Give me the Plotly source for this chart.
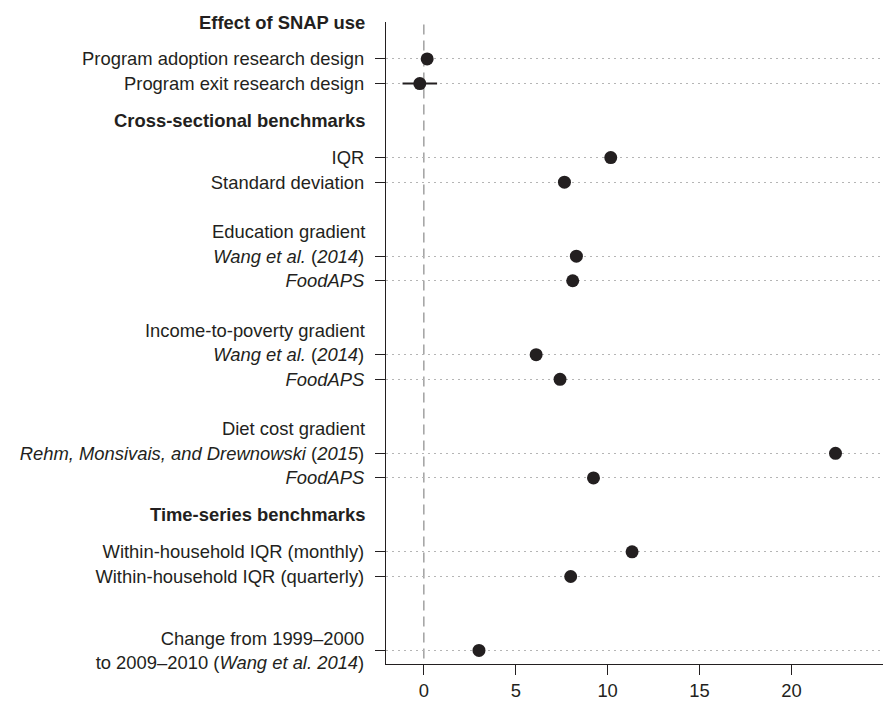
import plotly.graph_objects as go

# ticked rows (top to bottom) and their point estimates
labels = [
    "Program adoption research design",
    "Program exit research design",
    "IQR",
    "Standard deviation",
    "<i>Wang et al.</i> (<i>2014</i>)",
    "<i>FoodAPS</i>",
    "<i>Wang et al.</i> (<i>2014</i>)",
    "<i>FoodAPS</i>",
    "<i>Rehm, Monsivais, and Drewnowski</i> (<i>2015</i>)",
    "<i>FoodAPS</i>",
    "Within-household IQR (monthly)",
    "Within-household IQR (quarterly)",
    "Change from 1999–2000<br>to 2009–2010 (<i>Wang et al. 2014</i>)",
]
estimates = [0.18, -0.22, 10.17, 7.65, 8.30, 8.10, 6.11, 7.41, 22.40, 9.23, 11.33, 7.99, 3.00]
ci_half = [0, 0.94, 0, 0, 0, 0, 0, 0, 0, 0, 0, 0, 0]

headers = ["Effect of SNAP use", "Cross-sectional benchmarks", "Time-series benchmarks"]
subgroups = ["Education gradient", "Income-to-poverty gradient", "Diet cost gradient"]

x_ticks = [0, 5, 10, 15, 20, 25]
x_ticktext = ["0", "5", "10", "15", "20", ""]

# row slots on the vertical axis (layout only)
row_slots = [0, 1, 4, 5, 8, 9, 12, 13, 16, 17, 20, 21, 24]
header_slots = [-1.5, 2.5, 18.5]
subgroup_slots = [7, 11, 15]

INK = "#231f20"
FONT = "Liberation Sans, Arial, Helvetica, sans-serif"
FS = 18.4

fig = go.Figure()

fig.add_trace(go.Scatter(
    x=estimates,
    y=row_slots,
    mode="markers",
    marker=dict(size=13, color=INK),
    error_x=dict(type="data", array=ci_half, symmetric=True,
                 color=INK, thickness=2, width=0),
    showlegend=False,
    cliponaxis=False,
))

# dashed zero line
fig.add_shape(type="line", x0=0, x1=0, y0=-1.4, y1=24.55,
              xref="x", yref="y",
              line=dict(color="#8a8a8a", width=1.2, dash="10px,6px"),
              layer="below")

for txt, pos in zip(headers, header_slots):
    fig.add_annotation(text=f"<b>{txt}</b>", x=0, xref="paper", y=pos, yref="y",
                       xanchor="right", yanchor="middle", xshift=-19.5,
                       showarrow=False, font=dict(size=FS, color=INK, family=FONT))

for txt, pos in zip(subgroups, subgroup_slots):
    fig.add_annotation(text=txt, x=0, xref="paper", y=pos, yref="y",
                       xanchor="right", yanchor="middle", xshift=-19.5,
                       showarrow=False, font=dict(size=FS, color=INK, family=FONT))

# page body has an 8px margin, so the figure is sized to end at the window edge
fig.update_layout(
    width=883, height=693,
    margin=dict(l=378, r=0, t=14, b=34),
    paper_bgcolor="white",
    plot_bgcolor="white",
    font=dict(family=FONT, size=FS, color=INK),
    xaxis=dict(
        range=[-2.06, 25.42],
        tickvals=x_ticks, ticktext=x_ticktext,
        ticks="outside", ticklen=10, tickwidth=1.2, tickcolor=INK,
        showline=True, linecolor=INK, linewidth=1.2,
        showgrid=False, zeroline=False,
        tickfont=dict(size=FS, color=INK),
    ),
    yaxis=dict(
        range=[24.55, -1.5],
        tickvals=row_slots, ticktext=labels,
        ticks="outside", ticklen=10, tickwidth=1.2, tickcolor=INK,
        ticklabelstandoff=7,
        showline=True, linecolor=INK, linewidth=1.2,
        showgrid=True, gridcolor="#b5b5b5", gridwidth=1, griddash="2px,4px",
        zeroline=False,
        tickfont=dict(size=FS, color=INK),
    ),
)

fig.write_html("out.html")
